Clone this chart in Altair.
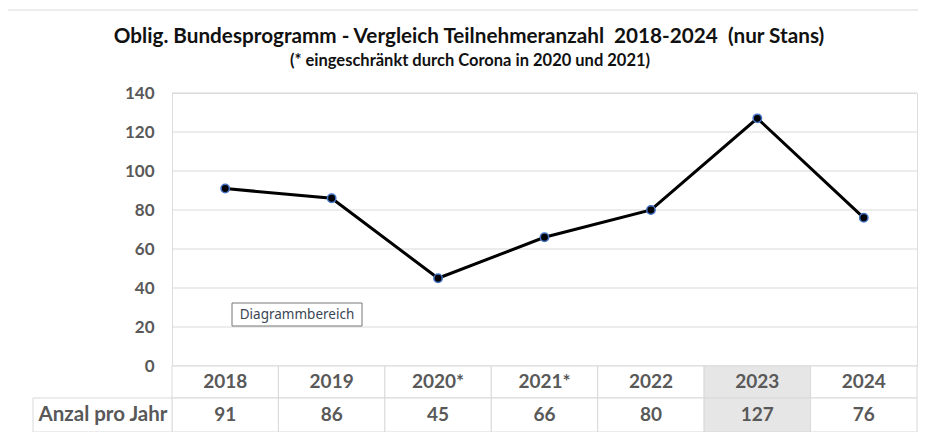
import altair as alt
import pandas as pd

years = ["2018", "2019", "2020*", "2021*", "2022", "2023", "2024"]
values = [91, 86, 45, 66, 80, 127, 76]
highlight_years = ["2023"]
row_label = "Anzal pro Jahr"
y_ticks = [0, 20, 40, 60, 80, 100, 120, 140]
title_text = "Oblig. Bundesprogramm - Vergleich Teilnehmeranzahl  2018-2024  (nur Stans)"
subtitle_text = "(* eingeschränkt durch Corona in 2020 und 2021)"
tooltip_text = "Diagrammbereich"

FONT = "Lato, Open Sans, sans-serif"
W, H = 745, 273
GRAY = "#595959"
LINE = "#d9d9d9"

df = pd.DataFrame({"year": years, "value": values,
                   "hl": [y in highlight_years for y in years]})
ticks_df = pd.DataFrame({"tick": y_ticks})
lab = pd.DataFrame({"label": [row_label]})
tip = pd.DataFrame({"label": [tooltip_text]})
# keep the double spaces visible in SVG
ttl = pd.DataFrame({"t": [title_text.replace("  ", " \u00a0")], "s": [subtitle_text]})

yscale = alt.Scale(domain=[0, 140], nice=False)
xenc = alt.X("year:N", sort=years,
             scale=alt.Scale(domain=years, paddingInner=0, paddingOuter=0),
             axis=None)
yaxis = alt.Axis(values=y_ticks, title=None, domain=False, ticks=False,
                 grid=False, labelOverlap=False, tickCount=8,
                 labelFont=FONT, labelFontSize=17, labelFontWeight=700,
                 labelColor=GRAY, labelPadding=18)

grid = alt.Chart(ticks_df).mark_rule(color=LINE, strokeWidth=1).encode(
    y=alt.Y("tick:Q", scale=yscale, axis=yaxis))

base = alt.Chart(df)
line = base.mark_line(color="black", strokeWidth=3).encode(
    x=xenc, y=alt.Y("value:Q", scale=yscale, axis=yaxis))
pts = base.mark_point(filled=True, fill="black", stroke="#4472c4",
                      strokeWidth=1.5, size=70, opacity=1).encode(
    x=xenc, y=alt.Y("value:Q", scale=yscale, axis=yaxis))

cells_top = base.mark_rect(stroke=LINE, strokeWidth=1).encode(
    x=xenc, y=alt.value(H), y2=alt.value(H + 32),
    fill=alt.condition("datum.hl", alt.value("#e7e6e6"), alt.value("white")))
cells_bot = base.mark_rect(stroke=LINE, strokeWidth=1).encode(
    x=xenc, y=alt.value(H + 32), y2=alt.value(H + 66),
    fill=alt.condition("datum.hl", alt.value("#e7e6e6"), alt.value("white")))
txt_top = base.mark_text(font=FONT, fontSize=19, fontWeight="bold", color=GRAY,
                         baseline="middle").encode(
    x=xenc, y=alt.value(H + 16), text="year:N")
txt_bot = base.mark_text(font=FONT, fontSize=19, fontWeight="bold", color=GRAY,
                         baseline="middle").encode(
    x=xenc, y=alt.value(H + 49), text="value:Q")

lab_cell = alt.Chart(lab).mark_rect(stroke=LINE, strokeWidth=1, fill="white").encode(
    x=alt.value(-139), x2=alt.value(0), y=alt.value(H + 32), y2=alt.value(H + 66))
lab_txt = alt.Chart(lab).mark_text(font=FONT, fontSize=20.5, fontWeight="bold",
                                   color=GRAY, baseline="middle").encode(
    x=alt.value(-69), y=alt.value(H + 49), text="label:N")

top_border = alt.Chart(lab).mark_rule(color=LINE, strokeWidth=1).encode(
    x=alt.value(-164), x2=alt.value(W + 10), y=alt.value(-83))

title_mark = alt.Chart(ttl).mark_text(font=FONT, fontSize=20.7, fontWeight="bold",
                                      color="#111111", baseline="alphabetic").encode(
    x=alt.value(297), y=alt.value(-50), text="t:N")
subtitle_mark = alt.Chart(ttl).mark_text(font=FONT, fontSize=16.5, fontWeight="bold",
                                         color="#111111", baseline="alphabetic").encode(
    x=alt.value(298), y=alt.value(-27), text="s:N")

tip_box = alt.Chart(tip).mark_rect(fill="white", stroke="#767676", strokeWidth=1).encode(
    x=alt.value(60), x2=alt.value(190), y=alt.value(210), y2=alt.value(233))
tip_txt = alt.Chart(tip).mark_text(font="Noto Sans, Open Sans, sans-serif", fontSize=13.5,
                                   color="#3b4654", baseline="middle").encode(
    x=alt.value(125), y=alt.value(222), text="label:N")

chart = alt.layer(
    top_border, grid, title_mark, subtitle_mark, line, pts,
    cells_top, cells_bot, txt_top, txt_bot,
    lab_cell, lab_txt, tip_box, tip_txt
).properties(
    width=W, height=H,
    autosize=alt.AutoSizeParams(type="none"),
    padding={"left": 164, "top": 85, "right": 1, "bottom": 66},
).configure_view(stroke=None).configure(background="white")

chart.save("out.html", embed_options={"renderer": "svg", "actions": False})
